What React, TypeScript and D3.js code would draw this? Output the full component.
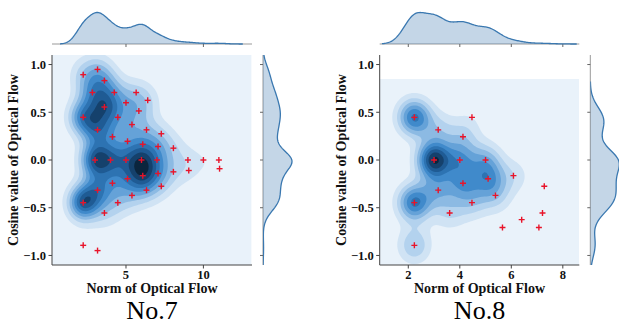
import React from "react";
import * as d3 from "d3";

const W = 619;
const H = 324;

// ---------- No.7 : norm and cosine of optical flow, with sample counts ----------
const norm7 = [2.236, 3.162, 3.606, 2.828, 4.243, 5.657, 6.403, 5.0, 5.831, 3.606, 2.236, 4.472, 3.162, 5.385, 6.325, 7.28, 4.123, 5.099, 6.083, 7.071, 8.062, 3, 4, 5, 6, 7, 9, 10, 11, 11.045, 9.055, 8.062, 7.071, 6.083, 5.099, 4.123, 7.28, 3.162, 6.325, 5.385, 2.236, 4.472, 3.606, 2.236, 3.162];
const cos7 = [0.894, 0.949, 0.832, 0.707, 0.707, 0.707, 0.625, 0.6, 0.514, 0.555, 0.447, 0.447, 0.316, 0.371, 0.316, 0.275, 0.243, 0.196, 0.164, 0.141, 0.124, 0, 0, 0, 0, 0, 0, 0, 0, -0.091, -0.11, -0.124, -0.141, -0.164, -0.196, -0.243, -0.275, -0.316, -0.316, -0.371, -0.447, -0.447, -0.555, -0.894, -0.949];
const count7 = [1, 1, 1.2, 1.8, 1, 0.7, 0.7, 0.7, 0.8, 2.8, 3, 1, 2.5, 0.6, 0.6, 0.5, 0.8, 0.8, 1, 0.8, 0.6, 3.8, 2.2, 1.5, 2.4, 1, 0.4, 0.25, 0.2, 0.15, 0.35, 0.6, 1, 2.4, 1.2, 1, 0.5, 2.3, 0.8, 0.8, 4, 0.8, 0.8, 0.15, 0.15];

// ---------- No.8 ----------
const norm8 = [2.236, 4.472, 3.162, 4.123, 3, 4, 5, 6.083, 5.099, 4.123, 7.28, 3.162, 5.385, 2.236, 4.472, 3.606, 7.211, 6.403, 5.657, 7.071, 2.236];
const cos8 = [0.447, 0.447, 0.316, 0.243, 0, 0, 0, -0.164, -0.196, -0.243, -0.275, -0.316, -0.371, -0.447, -0.447, -0.555, -0.555, -0.625, -0.707, -0.707, -0.894];
const count8 = [2.5, 0.2, 0.8, 0.8, 3.5, 1.5, 1.2, 0.6, 1.5, 1.5, 0.05, 1.2, 0.8, 2.5, 0.8, 0.7, 0.05, 0.05, 0.05, 0.05, 1.2];

const yTicks = [-1, -0.5, 0, 0.5, 1];
const xTicks7 = [5, 10];
const xTicks8 = [2, 4, 6, 8];
const titles = ["No.7", "No.8"];
const xLabel = "Norm of Optical Flow";
const yLabel = "Cosine value of Optical Flow";

const cmapStops = [0, 0.08, 0.25, 0.4, 0.55, 0.7, 0.82, 0.92, 1];
const cmapColors = ["#f0f6fc", "#e4eff9", "#b3d2ee", "#78aede", "#408acb", "#2468a6", "#18497a", "#0e2d4a", "#071827"];
const cmap = d3.scaleLinear<string>().domain(cmapStops).range(cmapColors).interpolate(d3.interpolateRgb).clamp(true);

const FONT = "'Liberation Serif', 'Times New Roman', serif";
const LINE = "#3a78b0";

function niceLevels(zmax: number, nbins = 11) {
  const raw = zmax / nbins;
  const p = Math.pow(10, Math.floor(Math.log10(raw)));
  const steps = [1, 2, 2.5, 5, 10];
  const s = (steps.find((k) => k * p >= raw * (1 - 1e-9)) || 10) * p;
  const n = Math.ceil(zmax / s - 1e-9);
  return d3.range(0, n + 1).map((k) => k * s);
}

function kde1(vals: number[], w: number[], bw: number, g: number) {
  let s = 0, sw = 0;
  for (let i = 0; i < vals.length; i++) {
    const u = (g - vals[i]) / bw;
    s += w[i] * Math.exp(-0.5 * u * u);
    sw += w[i];
  }
  return s / (sw * bw * Math.sqrt(2 * Math.PI));
}

type JP = {
  id: string;
  xs: number[];
  ys: number[];
  ws: number[];
  xDomain: [number, number];
  left: number;
  right: number;
  bw2: [number, number];
  bwm: [number, number];
  xTicks: number[];
  title: string;
};

const TOP = 55;
const BOTTOM = 265;
const yDomain: [number, number] = [-1.1, 1.1];

function JointPlot({ id, xs, ys, ws, xDomain, left, right, bw2, bwm, xTicks, title }: JP) {
  const sx = d3.scaleLinear().domain(xDomain).range([left, right]);
  const sy = d3.scaleLinear().domain(yDomain).range([BOTTOM, TOP]);

  // 2D KDE grid
  const n = 100;
  const [bx, by] = bw2;
  const gx0 = d3.min(xs)! - 3 * bx, gx1 = d3.max(xs)! + 3 * bx;
  const gy0 = d3.min(ys)! - 3 * by, gy1 = d3.max(ys)! + 3 * by;
  const dx = (gx1 - gx0) / (n - 1), dy = (gy1 - gy0) / (n - 1);
  const vals = new Array(n * n);
  const sw = d3.sum(ws);
  for (let j = 0; j < n; j++) {
    const gy = gy0 + j * dy;
    for (let i = 0; i < n; i++) {
      const gx = gx0 + i * dx;
      let s = 0;
      for (let k = 0; k < xs.length; k++) {
        const u = (gx - xs[k]) / bx, v = (gy - ys[k]) / by;
        s += ws[k] * Math.exp(-0.5 * (u * u + v * v));
      }
      vals[j * n + i] = s / (sw * 2 * Math.PI * bx * by);
    }
  }
  const zmax = d3.max(vals)!;
  const levels = niceLevels(zmax);
  const nb = levels.length - 1;
  const bands = d3.contours().size([n, n]).thresholds(levels.slice(0, nb))(vals);
  const proj = d3.geoTransform({
    point(x: number, y: number) {
      const cx = Math.max(0, Math.min(n - 1, x - 0.5));
      const cy = Math.max(0, Math.min(n - 1, y - 0.5));
      (this as any).stream.point(sx(gx0 + cx * dx), sy(gy0 + cy * dy));
    },
  });
  const path = d3.geoPath(proj);

  // marginals
  const [mbx, mby] = bwm;
  const mx0 = d3.min(xs)! - 3 * mbx, mx1 = d3.max(xs)! + 3 * mbx;
  const my0 = d3.min(ys)! - 3 * mby, my1 = d3.max(ys)! + 3 * mby;
  const mxg = d3.range(0, 200).map((k) => mx0 + (k * (mx1 - mx0)) / 199);
  const myg = d3.range(0, 200).map((k) => my0 + (k * (my1 - my0)) / 199);
  const mxd = mxg.map((g) => kde1(xs, ws, mbx, g));
  const myd = myg.map((g) => kde1(ys, ws, mby, g));
  const topBase = 44;
  const rightBase = right + 11;
  const sTop = d3.scaleLinear().domain([0, d3.max(mxd)!]).range([topBase, topBase - 31.5]);
  const sRight = d3.scaleLinear().domain([0, d3.max(myd)!]).range([rightBase, rightBase + 29]);
  const topArea = d3.area<number>().x((_, i) => sx(mxg[i])).y0(topBase).y1((d) => sTop(d));
  const topLine = d3.line<number>().x((_, i) => sx(mxg[i])).y((d) => sTop(d));
  const rightArea = d3.area<number>().y((_, i) => sy(myg[i])).x0(rightBase).x1((d) => sRight(d));
  const rightLine = d3.line<number>().y((_, i) => sy(myg[i])).x((d) => sRight(d));

  const cx = (left + right) / 2;
  const fmtY = (v: number) => (v < 0 ? "\u2212" : "") + Math.abs(v).toFixed(1);

  return (
    <g>
      <defs>
        <clipPath id={`clip-main-${id}`}>
          <rect x={left} y={TOP} width={right - left} height={BOTTOM - TOP} />
        </clipPath>
        <clipPath id={`clip-top-${id}`}>
          <rect x={left} y={0} width={right - left} height={topBase + 1} />
        </clipPath>
        <clipPath id={`clip-right-${id}`}>
          <rect x={rightBase} y={TOP} width={60} height={BOTTOM - TOP} />
        </clipPath>
      </defs>
      <g clipPath={`url(#clip-main-${id})`}>
        {bands.map((b, k) => (
          <path key={k} d={path(b as any) || ""} fill={cmap((k + 0.5) / nb)} stroke="none" />
        ))}
        {xs.map((x, k) => (
          <g key={k} stroke="#e8142a" strokeWidth={1.4}>
            <line x1={sx(x) - 3} x2={sx(x) + 3} y1={sy(ys[k])} y2={sy(ys[k])} />
            <line x1={sx(x)} x2={sx(x)} y1={sy(ys[k]) - 3} y2={sy(ys[k]) + 3} />
          </g>
        ))}
      </g>
      {/* main axes */}
      <line x1={left} x2={left} y1={TOP} y2={BOTTOM} stroke="#444" strokeWidth={1} />
      <line x1={left} x2={right} y1={BOTTOM} y2={BOTTOM} stroke="#444" strokeWidth={1} />
      {yTicks.map((t) => (
        <g key={t}>
          <line x1={left - 3.5} x2={left} y1={sy(t)} y2={sy(t)} stroke="#444" />
          <text x={left - 6} y={sy(t)} dy="0.35em" textAnchor="end" fontFamily={FONT} fontWeight="bold" fontSize={12.5} fill="#111">
            {fmtY(t)}
          </text>
        </g>
      ))}
      {xTicks.map((t) => (
        <g key={t}>
          <line x1={sx(t)} x2={sx(t)} y1={BOTTOM} y2={BOTTOM + 3.5} stroke="#444" />
          <text x={sx(t)} y={BOTTOM + 14} textAnchor="middle" fontFamily={FONT} fontWeight="bold" fontSize={12.5} fill="#111">
            {t}
          </text>
        </g>
      ))}
      <text x={cx} y={293} textAnchor="middle" fontFamily={FONT} fontWeight="bold" fontSize={14} fill="#111">
        {xLabel}
      </text>
      <text transform={`translate(${left - 34},${(TOP + BOTTOM) / 2}) rotate(-90)`} textAnchor="middle" fontFamily={FONT} fontWeight="bold" fontSize={14} fill="#111">
        {yLabel}
      </text>
      <text x={cx} y={319} textAnchor="middle" fontFamily={FONT} fontSize={26} fill="#000">
        {title}
      </text>
      {/* top marginal */}
      <line x1={left} x2={right} y1={topBase} y2={topBase} stroke="#999" strokeWidth={1} />
      {xTicks.map((t) => (
        <line key={t} x1={sx(t)} x2={sx(t)} y1={topBase} y2={topBase + 3} stroke="#666" />
      ))}
      <g clipPath={`url(#clip-top-${id})`}>
        <path d={topArea(mxd) || ""} fill={LINE} fillOpacity={0.3} />
        <path d={topLine(mxd) || ""} fill="none" stroke={LINE} strokeWidth={1.3} />
      </g>
      {/* right marginal */}
      <line x1={rightBase} x2={rightBase} y1={TOP} y2={BOTTOM} stroke="#999" strokeWidth={1} />
      {yTicks.map((t) => (
        <line key={t} x1={rightBase - 3} x2={rightBase} y1={sy(t)} y2={sy(t)} stroke="#666" />
      ))}
      <g clipPath={`url(#clip-right-${id})`}>
        <path d={rightArea(myd) || ""} fill={LINE} fillOpacity={0.3} />
        <path d={rightLine(myd) || ""} fill="none" stroke={LINE} strokeWidth={1.3} />
      </g>
    </g>
  );
}

export default function App() {
  return (
    <svg width={W} height={H} viewBox={`0 0 ${W} ${H}`} style={{ position: "absolute", left: 0, top: 0, background: "#fff" }}>
      <rect width={W} height={H} fill="#fff" />
      <JointPlot id="a" xs={norm7} ys={cos7} ws={count7} xDomain={[0.22, 13.14]} left={52} right={252} bw2={[0.685, 0.13]} bwm={[0.5, 0.1]} xTicks={xTicks7} title={titles[0]} />
      <JointPlot id="b" xs={norm8} ys={cos8} ws={count8} xDomain={[0.89, 8.64]} left={379.7} right={579.3} bw2={[0.45, 0.134]} bwm={[0.42, 0.125]} xTicks={xTicks8} title={titles[1]} />
    </svg>
  );
}
